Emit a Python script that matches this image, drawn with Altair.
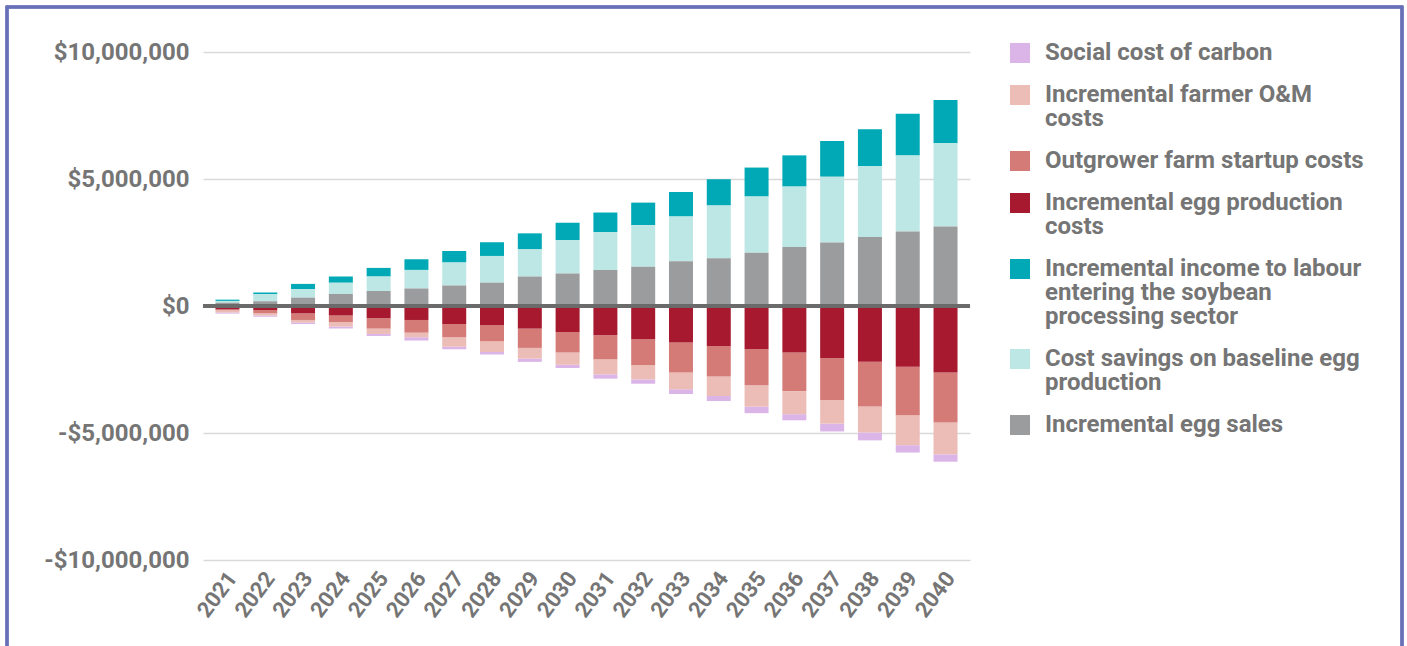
import altair as alt
import pandas as pd

# ---------------- data (values in $ millions) ----------------
years = [str(y) for y in range(2021, 2041)]

series_names = [
    "Social cost of carbon",
    "Incremental farmer O&M costs",
    "Outgrower farm startup costs",
    "Incremental egg production costs",
    "Incremental income to labour entering the soybean processing sector",
    "Cost savings on baseline egg production",
    "Incremental egg sales",
]
legend_labels = [
    "Social cost of carbon",
    "Incremental farmer O&M\ncosts",
    "Outgrower farm startup costs",
    "Incremental egg production\ncosts",
    "Incremental income to labour\nentering the soybean\nprocessing sector",
    "Cost savings on baseline egg\nproduction",
    "Incremental egg sales",
]
colors = ["#dcb5e8", "#ecbcb6", "#d47b77", "#a6192f", "#00a9b5", "#bde7e5", "#9b9c9e"]

# benefits (positive)
egg_sales = [0.13, 0.19, 0.33, 0.47, 0.59, 0.69, 0.81, 0.92, 1.16, 1.28,
             1.42, 1.55, 1.76, 1.88, 2.10, 2.32, 2.50, 2.72, 2.93, 3.13]
cost_savings = [0.07, 0.27, 0.33, 0.45, 0.57, 0.73, 0.90, 1.05, 1.07, 1.31,
                1.49, 1.63, 1.76, 2.08, 2.21, 2.38, 2.59, 2.79, 3.00, 3.28]
labour_income = [0.05, 0.07, 0.21, 0.24, 0.34, 0.42, 0.46, 0.54, 0.63, 0.69,
                 0.77, 0.89, 0.97, 1.03, 1.14, 1.23, 1.41, 1.45, 1.64, 1.70]
# costs (negative)
egg_prod_costs = [-0.13, -0.16, -0.29, -0.37, -0.48, -0.55, -0.71, -0.76, -0.89, -1.03,
                  -1.15, -1.31, -1.44, -1.57, -1.70, -1.83, -2.06, -2.19, -2.39, -2.62]
startup_costs = [-0.04, -0.13, -0.26, -0.26, -0.41, -0.50, -0.52, -0.63, -0.76, -0.80,
                 -0.95, -1.02, -1.18, -1.21, -1.42, -1.52, -1.64, -1.77, -1.91, -1.97]
om_costs = [-0.09, -0.08, -0.10, -0.18, -0.21, -0.18, -0.37, -0.42, -0.42, -0.48,
            -0.59, -0.56, -0.66, -0.76, -0.84, -0.91, -0.93, -1.02, -1.18, -1.25]
carbon = [-0.04, -0.05, -0.06, -0.08, -0.08, -0.13, -0.10, -0.10, -0.13, -0.13,
          -0.17, -0.17, -0.18, -0.20, -0.26, -0.24, -0.31, -0.31, -0.29, -0.29]

series_values = {
    "Social cost of carbon": carbon,
    "Incremental farmer O&M costs": om_costs,
    "Outgrower farm startup costs": startup_costs,
    "Incremental egg production costs": egg_prod_costs,
    "Incremental income to labour entering the soybean processing sector": labour_income,
    "Cost savings on baseline egg production": cost_savings,
    "Incremental egg sales": egg_sales,
}
# distance from the zero line within each stack
stack_rank = {
    "Incremental egg sales": 0,
    "Cost savings on baseline egg production": 1,
    "Incremental income to labour entering the soybean processing sector": 2,
    "Incremental egg production costs": 0,
    "Outgrower farm startup costs": 1,
    "Incremental farmer O&M costs": 2,
    "Social cost of carbon": 3,
}

rows = []
for name in series_names:
    for yr, v in zip(years, series_values[name]):
        rows.append({"year": yr, "series": name, "value": v * 1e6, "rank": stack_rank[name]})
df = pd.DataFrame(rows)

# legend table (row positions follow from the number of text lines)
LINE_H = 24
GAP = 18
leg_rows = []
pos = 1
for name, lab in zip(series_names, legend_labels):
    leg_rows.append({"series": name, "label": lab, "ly": pos})
    pos += lab.count("\n") * LINE_H + LINE_H + GAP
leg_df = pd.DataFrame(leg_rows)

W, H = 767, 508
FONT = "Roboto"
TXT = "#757575"

color_scale = alt.Scale(domain=series_names, range=colors)

bars = alt.Chart(df).mark_bar().encode(
    x=alt.X("year:N", sort=years,
            scale=alt.Scale(paddingInner=0.365, paddingOuter=0.33),
            axis=alt.Axis(title=None, labelAngle=-53, labelFont=FONT, labelFontWeight="bold",
                          labelFontSize=22, labelColor=TXT, ticks=False, domain=False,
                          labelPadding=14, labelOffset=5)),
    y=alt.Y("value:Q", stack="zero",
            scale=alt.Scale(domain=[-1e7, 1e7], nice=False),
            axis=alt.Axis(title=None, values=[-1e7, -5e6, 0, 5e6, 1e7],
                          labelExpr="(datum.value < 0 ? '-' : '') + '$' + format(abs(datum.value), ',')",
                          labelFont=FONT, labelFontWeight="bold", labelFontSize=24,
                          labelColor=TXT, ticks=False, domain=False, labelPadding=14,
                          gridColor="#d9d9d9", gridWidth=1.5)),
    color=alt.Color("series:N", scale=color_scale, legend=None),
    order=alt.Order("rank:Q", sort="ascending"),
)

zero = alt.Chart(df).mark_rule(color="#6b6b6b", strokeWidth=3).encode(y=alt.datum(0))

plot = alt.layer(bars, zero)

leg_y = alt.Y("ly:Q", scale=alt.Scale(domain=[0, H], range=[0, H]), axis=None)

leg_sq = alt.Chart(leg_df).mark_square(size=400, opacity=1).encode(
    x=alt.value(817),
    y=leg_y,
    color=alt.Color("series:N", scale=color_scale, legend=None),
)
leg_txt = alt.Chart(leg_df).mark_text(
    align="left", baseline="line-top", lineBreak="\n", lineHeight=LINE_H,
    font=FONT, fontSize=24, fontWeight="bold", color=TXT, dy=-12,
).encode(x=alt.value(842), y=leg_y, text="label:N")

frame = alt.Chart(leg_df).mark_rect(fill=None, fillOpacity=0, stroke="#6870b9", strokeWidth=2.5).encode(
    x=alt.value(-196), x2=alt.value(1199), y=alt.value(-45), y2=alt.value(620)
)

chart = alt.layer(frame, plot, leg_sq, leg_txt).resolve_scale(
    y="independent", color="shared"
).properties(
    width=W, height=H,
    autosize=alt.AutoSizeParams(type="none"),
    padding={"left": 203, "top": 52, "right": 1407 - 203 - W, "bottom": 646 - 52 - H},
    background="white",
).configure_view(stroke=None)

chart.save("out.html", embed_options={"renderer": "svg", "actions": False})
